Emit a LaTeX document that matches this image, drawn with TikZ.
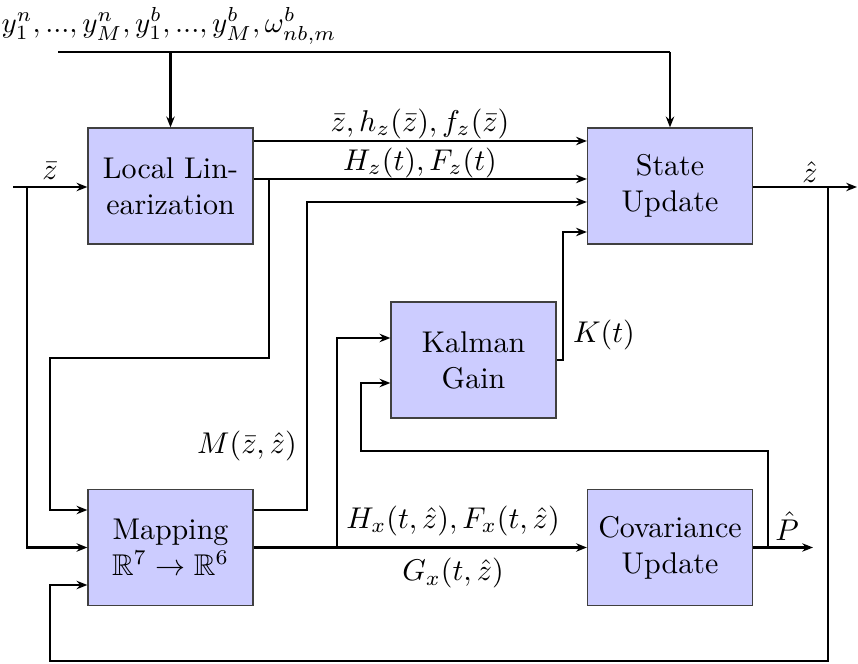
\documentclass[tikz,border=0pt]{standalone}
\usepackage{amssymb}
\usetikzlibrary{arrows.meta}
\begin{document}
\begin{tikzpicture}[x=0.3333pt,y=-0.3333pt,
  blk/.style={draw=black!75,line width=0.4pt,fill=blue!20,minimum width=55pt,minimum height=38.67pt,align=center,inner sep=0pt,font=\rmfamily},
  wire/.style={line width=0.75pt,line join=miter},
  arr/.style={wire,-{Stealth[length=3.6pt,width=2.8pt]}},
  lbl/.style={inner sep=0pt}]
\useasboundingbox (0,0) rectangle (858,664);
% blocks
\node[blk] (LL) at (170.5,186) {Local Lin-\\earization};
\node[blk] (SU) at (670,186) {State\\Update};
\node[blk] (KG) at (473.5,360) {Kalman\\Gain};
\node[blk] (MP) at (170.5,547.5) {Mapping\\$\mathbb{R}^7\to\mathbb{R}^6$};
\node[blk] (CU) at (670,547.5) {Covariance\\Update};
% coordinates
\coordinate (inS) at (58,52);
\coordinate (zin) at (13,187);
\coordinate (zout) at (857,187);
\coordinate (pout) at (813,547.5);
% labels
\node[lbl,scale=0.965] (tin) at (169,26) {$y_1^n,...,y_M^n,y_1^b,...,y_M^b,\omega_{nb,m}^b$};
\node[lbl] (lz) at (50,171) {$\bar z$};
\node[lbl] (lh) at (420,124) {$\bar z, h_z(\bar z), f_z(\bar z)$};
\node[lbl] (lH) at (420,163) {$H_z(t), F_z(t)$};
\node[lbl] (lzh) at (810,172) {$\hat z$};
\node[lbl] (lK) at (604,335) {$K(t)$};
\node[lbl] (lM) at (247,446) {$M(\bar z,\hat z)$};
\node[lbl] (lHx) at (453,521) {$H_x(t,\hat z), F_x(t,\hat z)$};
\node[lbl] (lG) at (453,573) {$G_x(t,\hat z)$};
\node[lbl] (lP) at (787,526) {$\hat P$};
% top input
\draw[wire] (inS) -- (SU.north |- inS);
\draw[arr] (SU.north |- inS) -- (SU.north);
\draw[arr] (LL.north |- inS) -- (LL.north);
% zbar input
\draw[arr] (zin) -- (LL.west |- zin);
\draw[arr] (27,187) -- (27,547.5) -- (MP.west);
% LL outputs
\draw[arr] (LL.east |- 0,141) -- (SU.west |- 0,141);
\draw[arr] (LL.east |- 0,179) -- (SU.west |- 0,179);
\draw[arr] (269,179) -- (269,358) -- (50,358) -- (50,510) -- (MP.west |- 0,510);
% M output
\draw[arr] (MP.east |- 0,510) -- (307,510) -- (307,202) -- (SU.west |- 0,202);
% mapping output
\draw[arr] (MP.east) -- (CU.west);
\draw[arr] (337,547.5) -- (337,338) -- (KG.west |- 0,338);
% covariance output
\draw[arr] (CU.east) -- (pout);
\draw[arr] (768,547.5) -- (768,451) -- (361,451) -- (361,383) -- (KG.west |- 0,383);
% Kalman output
\draw[arr] (KG.east) -- (563,360) -- (563,232) -- (SU.west |- 0,232);
% state output
\draw[arr] (SU.east |- zout) -- (zout);
\draw[arr] (828,187) -- (828,661) -- (50,661) -- (50,585) -- (MP.west |- 0,585);
\end{tikzpicture}
\end{document}
